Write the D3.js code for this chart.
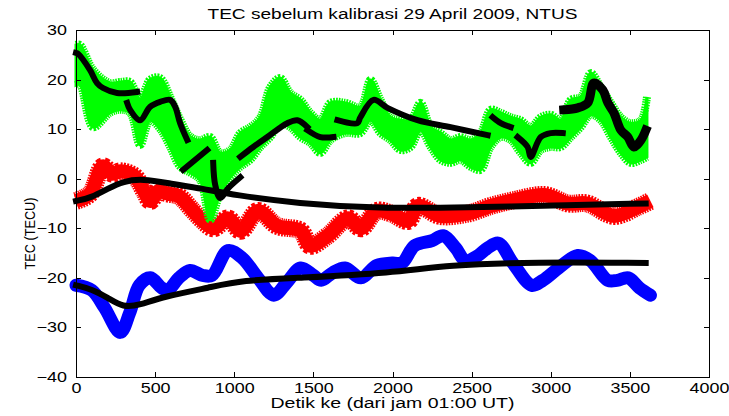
<!DOCTYPE html>
<html>
<head>
<meta charset="utf-8">
<script src="https://cdn.jsdelivr.net/npm/d3@7"></script>
<style>
  body { margin: 0; background: #fff; }
  svg { display: block; }
  text { font-family: "Liberation Sans", Arial, sans-serif; fill: #000; }
  .axis path, .axis line { stroke: #000; stroke-width: 1; shape-rendering: crispEdges; }
</style>
</head>
<body>
<script>
// TEC sebelum kalibrasi, NTUS
var xTicks = [0, 500, 1000, 1500, 2000, 2500, 3000, 3500, 4000]
var yTicks = [-40, -30, -20, -10, 0, 10, 20, 30]

// green band: lower / upper edge of the star cloud
var greenT     = [0, 25, 108, 215, 278, 342, 405, 468, 532, 595, 658, 722, 785, 848, 911, 975, 1038, 1101, 1165, 1228, 1291, 1354, 1418, 1481, 1544, 1608, 1703, 1797, 1861, 1924, 1987, 2051, 2114, 2177, 2241, 2304, 2367, 2430, 2494, 2557, 2620, 2684, 2747, 2810, 2873, 2937, 3000, 3063, 3127, 3190, 3253, 3316, 3380, 3443, 3506, 3570, 3608]
var greenUpper = [27, 27, 22, 19.3, 19.5, 19.5, 16, 20, 20.3, 16.5, 12, 8.5, 7.8, 8.4, 5.2, 5.8, 9.2, 10.4, 12.4, 18.5, 20.3, 17.3, 15.9, 13.3, 11.8, 15.3, 15.3, 14.5, 19.9, 15.9, 12.4, 11.8, 11.8, 15.3, 10.4, 9.2, 7.8, 8.4, 7.8, 9.2, 13.9, 13.3, 12.4, 11.8, 10.4, 12.4, 12.9, 11.8, 15.9, 16.5, 21.3, 18.5, 15.3, 12.4, 11.2, 11.8, 16.5]
var greenLower = [18.9, 19, 10.4, 13.3, 13.9, 13.3, 6.8, 11.8, 10, 6.4, 2.4, 1.2, -0.3, -8.3, -2.9, 0.3, 2.4, 3.8, 6.4, 8.4, 11.2, 10.4, 8.4, 7.2, 5.2, 7.8, 9.2, 9.2, 11.8, 9.2, 7.8, 5.8, 6.4, 9.8, 6.4, 3.8, 3.2, 3.8, 2.4, 1.8, 6.4, 8.4, 7.8, 5.2, 3.2, 5.8, 6.4, 6.4, 8.4, 10.4, 12.9, 11.8, 8.4, 5.2, 3.2, 3.8, 4.4]

// black pieces fitted on the green
var greenFit = [
  [[0, 25.4], [13, 25.2], [89, 21.9], [133, 19.3], [171, 18.3], [259, 17.3], [386, 17.5]],
  [[323, 15.3], [342, 13.9], [405, 11.8], [468, 14.5], [532, 15.5], [595, 15.9], [627, 14.5], [658, 11.2], [703, 7.8]],
  [[677, 1.8], [829, 5.8]],
  [[867, 3.2], [880, -1.3], [911, -3.9], [962, -1.9], [1038, 0.3]],
  [[1038, 4.4], [1120, 6.4], [1209, 8.4], [1335, 11.2], [1399, 11.8], [1462, 10.4]],
  [[1462, 9.8], [1544, 8.4], [1627, 8.4]],
  [[1652, 11.8], [1778, 11.2], [1797, 12.4], [1880, 15.9], [1968, 14.3], [2158, 11.8], [2367, 10.4], [2601, 8.8]],
  [[2633, 12.4], [2684, 11.2], [2747, 10.4]],
  [[2791, 8.4], [2854, 6.4], [2873, 4.4], [2937, 8.4], [3000, 9.2], [3076, 9.2]],
  [[3082, 13.9], [3171, 14.3], [3234, 15.3], [3272, 19.3], [3329, 17.9], [3361, 15.3], [3399, 13.3], [3443, 9.8], [3487, 8.4], [3525, 6.4], [3570, 7.8], [3601, 9.8]]
]

var redT   = [0, 90, 170, 230, 280, 370, 430, 470, 520, 580, 650, 740, 800, 870, 960, 1040, 1150, 1270, 1420, 1480, 1590, 1720, 1800, 1900, 1990, 2100, 2160, 2300, 2480, 2620, 2770, 2960, 3110, 3230, 3400, 3550, 3630]
var redTec = [-4.5, -3, 2.5, 1, 1.5, 0.5, -2.5, -4.5, -2.5, -3, -3.5, -6.5, -8.5, -10, -8, -10.5, -6.5, -9.5, -10.5, -13.5, -11.5, -8, -10, -6.5, -7, -8.5, -5.5, -7.5, -7, -5.5, -4.3, -3.3, -5, -5, -7.5, -5.7, -4.5]
var redFitT   = [0, 100, 200, 300, 420, 600, 800, 1000, 1400, 1900, 2500, 3000, 3600]
var redFitTec = [-4.5, -3.8, -2, -0.5, 0, -1, -2, -3.3, -5, -6, -5.8, -5.4, -5]

var blueT   = [0, 100, 180, 280, 340, 400, 470, 540, 580, 650, 720, 800, 860, 960, 1050, 1150, 1250, 1330, 1420, 1500, 1550, 1620, 1700, 1800, 1900, 2000, 2060, 2140, 2250, 2320, 2400, 2460, 2540, 2600, 2670, 2760, 2880, 2950, 3050, 3170, 3250, 3360, 3420, 3490, 3560, 3630]
var blueTec = [-21.5, -22.5, -26, -31, -27, -21.5, -20, -22, -22.5, -20, -18.5, -19.5, -19.5, -14.5, -16, -20, -23.5, -21, -18, -19.5, -20.5, -19, -18, -20, -17.5, -17, -17, -13.5, -12.5, -11.5, -14, -16.5, -15.5, -14, -13, -17, -21.5, -20.5, -18, -15.5, -16.5, -20.5, -20.5, -20, -22, -23.5]
var blueFitT   = [0, 100, 200, 300, 400, 550, 850, 1050, 1400, 2000, 2350, 2900, 3600]
var blueFitTec = [-21.5, -22.3, -24, -26, -25.5, -23.8, -21.9, -20.5, -20, -19, -17.4, -16.8, -17]

var W = 729, H = 416
var m = {top: 30, right: 20, bottom: 39, left: 76}
var width = W - m.left - m.right, height = H - m.top - m.bottom

var svg = d3.select('body').append('svg')
    .attr('width', W)
    .attr('height', H)

var g = svg.append('g')
    .attr('transform', 'translate(' + m.left + ',' + m.top + ')')

var x = d3.scaleLinear().domain([0, 4000]).range([0, width])
var y = d3.scaleLinear().domain([-40, 30]).range([height, 0])

function zip(a, b){ return a.map(function(v, i){ return [v, b[i]] }) }

var line = d3.line()
    .x(function(d){ return x(d[0]) })
    .y(function(d){ return y(d[1]) })
    .curve(d3.curveCatmullRom)

// stretch text horizontally like the original render
function stretch(sel, k){
  sel.each(function(){
    var w = this.getComputedTextLength()
    d3.select(this).attr('textLength', w * k).attr('lengthAdjust', 'spacingAndGlyphs')
  })
}

// red band
var red = zip(redT, redTec)
g.append('path').datum(red).attr('d', line)
    .attr('fill', 'none').attr('stroke', '#ff0000').attr('stroke-width', 18)
    .attr('stroke-dasharray', '1.5 1')
g.append('path').datum(red).attr('d', line)
    .attr('fill', 'none').attr('stroke', '#ff0000').attr('stroke-width', 14)
    .attr('stroke-linejoin', 'round')

// blue band
g.append('path').datum(zip(blueT, blueTec)).attr('d', line)
    .attr('fill', 'none').attr('stroke', '#0000ff').attr('stroke-width', 13)
    .attr('stroke-linejoin', 'round').attr('stroke-linecap', 'round')

// green cloud
var gUp = zip(greenT, greenUpper), gLo = zip(greenT, greenLower)
var area = d3.area()
    .x(function(d, i){ return x(greenT[i]) })
    .y0(function(d, i){ return y(greenLower[i]) })
    .y1(function(d, i){ return y(greenUpper[i]) })
    .curve(d3.curveCatmullRom)
g.append('path').datum(greenT).attr('d', area)
    .attr('fill', '#00ff00').attr('stroke', '#00ff00').attr('stroke-width', 3)
;[gUp, gLo].forEach(function(edge){
  g.append('path').datum(edge).attr('d', line)
      .attr('fill', 'none').attr('stroke', '#00ff00').attr('stroke-width', 8)
      .attr('stroke-dasharray', '1.5 1')
})

// black fits
greenFit.forEach(function(seg, i){
  g.append('path').datum(seg).attr('d', line)
      .attr('fill', 'none').attr('stroke', '#000')
      .attr('stroke-width', i == greenFit.length - 1 ? 9 : 6)
      .attr('stroke-linecap', 'square')
})
;[zip(redFitT, redFitTec), zip(blueFitT, blueFitTec)].forEach(function(d){
  g.append('path').datum(d).attr('d', line.curve(d3.curveBasis))
      .attr('fill', 'none').attr('stroke', '#000').attr('stroke-width', 6)
      .attr('stroke-linecap', 'square')
})
line.curve(d3.curveCatmullRom)

// axes, ticks pointing in
var xAxis = g.append('g').attr('class', 'axis')
    .attr('transform', 'translate(0,' + height + ')')
    .call(d3.axisBottom(x).tickValues(xTicks).tickSizeInner(-5).tickSizeOuter(0).tickPadding(6).tickFormat(d3.format('d')))
var yAxis = g.append('g').attr('class', 'axis')
    .call(d3.axisLeft(y).tickValues(yTicks).tickSizeInner(-5).tickSizeOuter(0).tickPadding(9).tickFormat(d3.format('d')))
g.append('g').attr('class', 'axis')
    .call(d3.axisTop(x).tickValues(xTicks).tickSizeInner(-5).tickSizeOuter(0).tickFormat(''))
g.append('g').attr('class', 'axis')
    .attr('transform', 'translate(' + width + ',0)')
    .call(d3.axisRight(y).tickValues(yTicks).tickSizeInner(-5).tickSizeOuter(0).tickFormat(''))

g.selectAll('.axis text').attr('font-size', 14).style('font-family', '"Liberation Sans", Arial, sans-serif')
stretch(g.selectAll('.axis text'), 1.28)

// labels
var title = svg.append('text')
    .attr('x', m.left + width / 2).attr('y', 19)
    .attr('text-anchor', 'middle').attr('font-size', 14)
    .text('TEC sebelum kalibrasi 29 April 2009, NTUS')
title.attr('textLength', 370).attr('lengthAdjust', 'spacingAndGlyphs')

var xLabel = svg.append('text')
    .attr('x', m.left + width / 2).attr('y', 408)
    .attr('text-anchor', 'middle').attr('font-size', 14)
    .text('Detik ke (dari jam 01:00 UT)')
xLabel.attr('textLength', 244).attr('lengthAdjust', 'spacingAndGlyphs')

var yLabel = svg.append('text')
    .attr('transform', 'translate(35,' + (m.top + height / 2 + 30) + ') rotate(-90)')
    .attr('text-anchor', 'middle').attr('font-size', 14)
    .text('TEC (TECU)')
yLabel.attr('textLength', 72).attr('lengthAdjust', 'spacingAndGlyphs')
</script>
</body>
</html>
